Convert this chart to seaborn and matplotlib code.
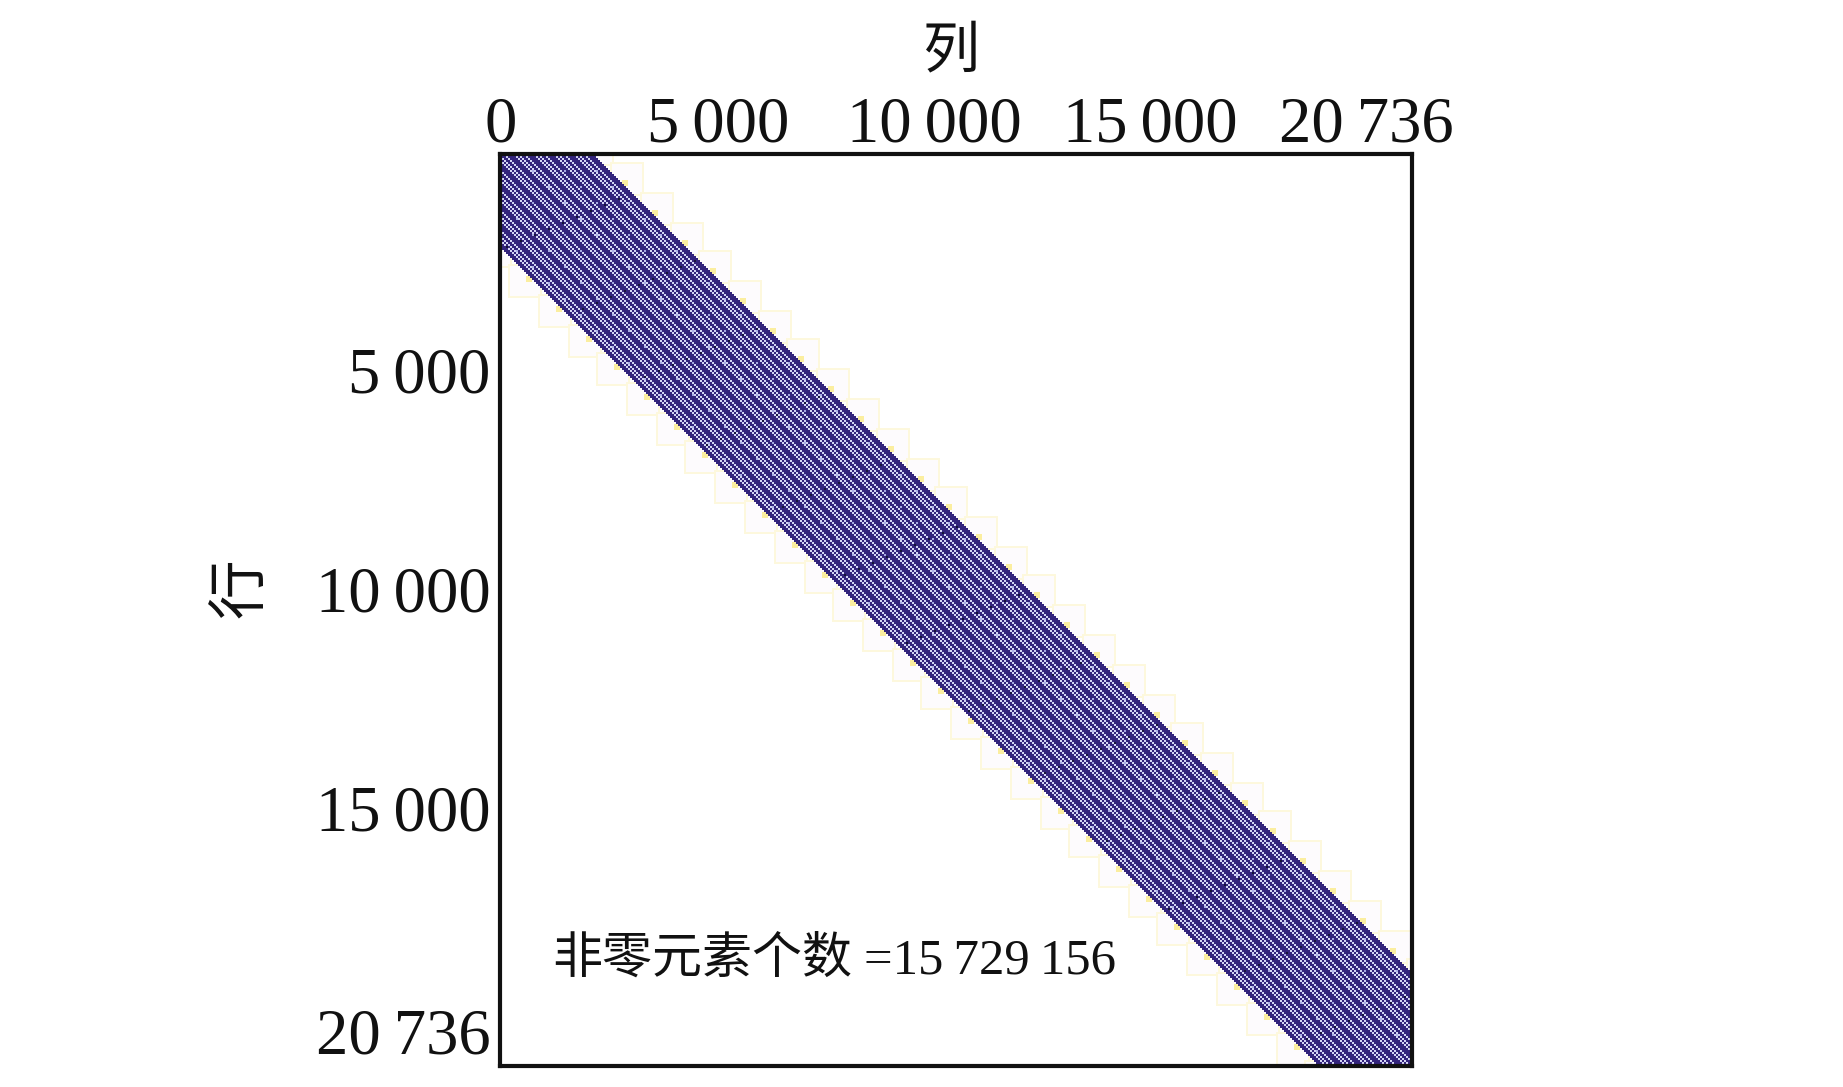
import numpy as np
import matplotlib
matplotlib.use("Agg")
import matplotlib.pyplot as plt
from matplotlib.colors import ListedColormap
from matplotlib.transforms import ScaledTranslation
import seaborn as sns

sns.set_theme(style="white")
SERIF = ["Liberation Serif", "Noto Sans CJK SC"]
CJK = ["Noto Sans CJK SC", "DejaVu Sans"]

MATRIX_SIZE = 20736
CELLS = 456
BAND_HALF = 46          # half bandwidth in cells
# diagonal offsets (cells) of the lighter, sparser stripes in the band
STRIPES = [-43, -41, -38, -33, -31, -28, -23, -21, -18, -13, -11, -8, -3, -1, 2, 7, 9, 12,
           17, 19, 22, 27, 29, 32, 37, 39, 42]
X_TICKS = [0, 5000, 10000, 15000, 20054]
Y_TICKS = [5000, 9970, 14961, 19940]
X_LABELS = ["0", "5\u2009000", "10\u2009000", "15\u2009000", "20\u2009736"]
Y_LABELS = ["5\u2009000", "10\u2009000", "15\u2009000", "20\u2009736"]
X_NAME, Y_NAME = "列", "行"
NOTE_CJK, NOTE_NUM = "非零元素个数", "=15\u2009729\u2009156"
STATE_COLORS = ["#ffffff", "#33247c", "#d4d5f4", "#fdf8dd", "#fbeea0", "#17153a", "#fdfbfd", "#a9abe4"]

i, j = np.indices((CELLS, CELLS))
d = j - i
M = np.zeros((CELLS, CELLS), dtype=int)

# pale halo blocks along both band edges
for k in range(-1, 33):
    c = int(round(k * 14.75))
    for (ci, cj, yi, yj) in ((c + 12, c + 12 + BAND_HALF + 5, c + 14, c + 14 + BAND_HALF + 2),
                             (c + 12 + BAND_HALF + 5, c + 12, c + 14 + BAND_HALF + 2, c + 14)):
        dist = np.maximum(abs(i - ci), abs(j - cj))
        M[dist <= 8] = 6
        M[dist == 8] = 3
        M[(abs(i - yi) <= 1) & (abs(j - yj) <= 1)] = 4

M[np.abs(d) <= BAND_HALF] = 1
for s in STRIPES:
    M[d == s] = 2
# moire dots of the spy plot
dots = ((j % 16 == 0) & (i % 16 == 8)) | ((j % 16 == 8) & (i % 16 == 0))
M[dots & (np.abs(d) <= BAND_HALF - 2)] = 7
specks = ((i * 7 + j * 3) % 331 == 0) & (np.abs(d) <= BAND_HALF - 2)
M[specks] = 5

fig = plt.figure(figsize=(18.43, 10.87), dpi=100, facecolor="white")
ax = fig.add_axes([500 / 1843, 1 - 1066 / 1087, 912 / 1843, 912 / 1087])
sns.heatmap(M, ax=ax, cmap=ListedColormap(STATE_COLORS), vmin=-0.5, vmax=7.5, cbar=False,
            xticklabels=False, yticklabels=False, rasterized=True)
scale = CELLS / MATRIX_SIZE
ax.set_xticks([v * scale for v in X_TICKS])
ax.set_yticks([v * scale for v in Y_TICKS])
ax.set_xticklabels(X_LABELS, family=SERIF, fontsize=46.5, color="#111111")
ax.set_yticklabels(Y_LABELS, family=SERIF, fontsize=46.5, color="#111111", rotation=0)
ax.tick_params(axis="x", pad=-1)
ax.tick_params(axis="y", pad=7)
ax.tick_params(axis="both", which="major", direction="in", length=6.5, width=1.3, color="#111111",
               top=True, bottom=True, left=True, right=True, labeltop=True, labelbottom=False,
               labelleft=True)
for spine in ax.spines.values():
    spine.set_visible(True)
    spine.set_linewidth(3)
    spine.set_color("#111111")
for lab, dx in zip(ax.get_xticklabels(), [1, -2, -5, -9, -16]):
    lab.set_transform(lab.get_transform() + ScaledTranslation(dx / 100, 0, fig.dpi_scale_trans))
for lab, dy in zip(ax.get_yticklabels(), [4, 4, 4, 0]):
    lab.set_transform(lab.get_transform() + ScaledTranslation(0, dy / 100, fig.dpi_scale_trans))

def fx(p): return p / 1843
def fy(p): return 1 - p / 1087

fig.text(fx(951), fy(51), X_NAME, family=CJK, fontsize=41, ha="center", va="center", color="#111111")
fig.text(fx(241), fy(588), Y_NAME, family=CJK, fontsize=43, ha="center", va="center", rotation=90, color="#111111")
fig.text(fx(552), fy(973), NOTE_CJK, family=CJK, fontsize=36, ha="left", va="baseline", color="#111111")
fig.text(fx(864), fy(973), NOTE_NUM, family=SERIF, fontsize=36.5, ha="left", va="baseline", color="#111111")

fig.savefig("out.png", dpi=100)
